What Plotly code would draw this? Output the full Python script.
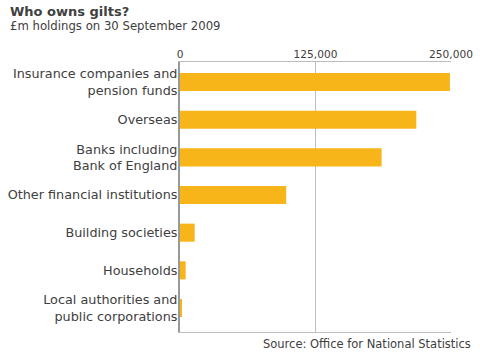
import plotly.graph_objects as go

categories = [
    "Insurance companies and<br>pension funds",
    "Overseas",
    "Banks including<br>Bank of England",
    "Other financial institutions",
    "Building societies",
    "Households",
    "Local authorities and<br>public corporations",
]
values = [249000, 218000, 186000, 98000, 13500, 5200, 1200]
tick_vals = [0, 125000, 250000]
tick_text = ["0", "125,000", "250,000"]

FONT = "DejaVu Sans"
TXT = "#404040"
BAR = "#F8B519"
GRID = "#bdbdbd"

fig = go.Figure(go.Bar(
    x=values, y=categories, orientation="h",
    marker=dict(color=BAR, line=dict(width=0)),
    width=0.48,
))

W, H = 480, 359
L, T = 180, 62
R = W - 451
B = H - 332
pw, ph = W - L - R, H - T - B

def px(x):
    return (x - L) / pw

def py(y):
    return (H - B - y) / ph

fig.update_layout(
    width=W, height=H,
    margin=dict(l=L, r=R, t=T, b=B, autoexpand=False),
    paper_bgcolor="white", plot_bgcolor="white",
    showlegend=False,
    font=dict(family=FONT, color=TXT, size=12),
    xaxis=dict(
        side="top", range=[0, 250000], tickvals=tick_vals, ticktext=tick_text,
        showgrid=True, gridcolor=GRID, gridwidth=1,
        zeroline=False, showline=True, mirror=True, linecolor=GRID, linewidth=1,
        ticks="", automargin=False, ticklabelstandoff=-1,
        tickfont=dict(size=10.6, color=TXT, family=FONT),
        fixedrange=True,
    ),
    yaxis=dict(
        categoryorder="array", categoryarray=categories,
        range=[6.637, -0.531], automargin=False,
        showline=True, linecolor="#999999", linewidth=2,
        showgrid=False, zeroline=False, ticks="",
        tickfont=dict(size=12.8, color=TXT, family=FONT),
        ticklabelstandoff=-2, fixedrange=True,
    ),
    annotations=[
        dict(text="<b>Who owns gilts?</b>", xref="paper", yref="paper",
             x=px(8), y=py(11), xanchor="left", yanchor="middle", showarrow=False,
             font=dict(size=13, color=TXT, family=FONT)),
        dict(text="£m holdings on 30 September 2009", xref="paper", yref="paper",
             x=px(8), y=py(26), xanchor="left", yanchor="middle", showarrow=False,
             font=dict(size=11.7, color=TXT, family=FONT)),
        dict(text="Source: Office for National Statistics", xref="paper", yref="paper",
             x=px(473), y=py(344), xanchor="right", yanchor="middle", showarrow=False,
             font=dict(size=11.5, color=TXT, family=FONT)),
    ],
)

fig.write_html(
    "out.html",
    config={"displayModeBar": False},
    post_script="document.body.style.margin='0';document.body.style.overflow='hidden';",
)
